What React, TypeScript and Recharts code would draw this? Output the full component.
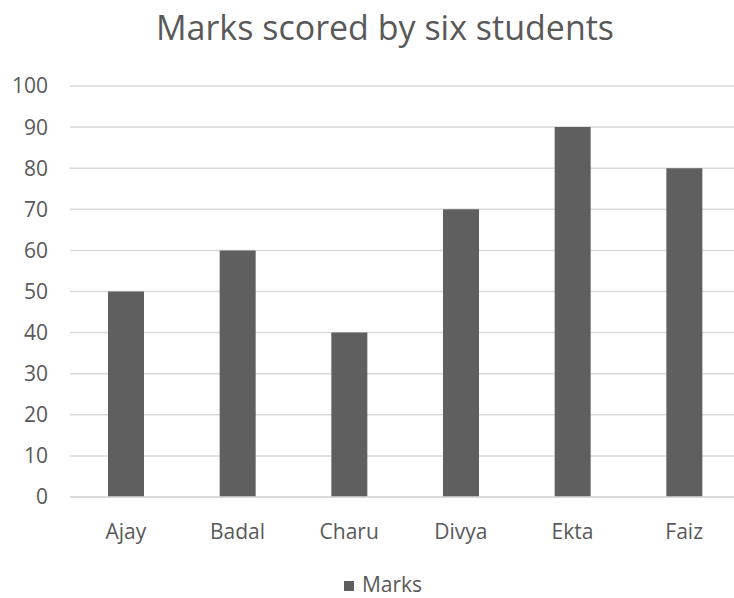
import { BarChart, Bar, XAxis, YAxis, CartesianGrid, Legend } from "recharts";

const students = ["Ajay", "Badal", "Charu", "Divya", "Ekta", "Faiz"];
const marks = [50, 60, 40, 70, 90, 80];
const yTicks = [0, 10, 20, 30, 40, 50, 60, 70, 80, 90, 100];

const data = students.map((name, i) => ({ name, Marks: marks[i] }));

const font = "'Open Sans', 'Noto Sans', sans-serif";
const textColor = "#595959";

export default function App() {
  return (
    <div style={{ position: "absolute", left: 0, top: 0, width: 734, height: 598, overflow: "hidden", background: "#fff", fontFamily: font }}>
      <div style={{ position: "absolute", top: 4, left: 0, width: 770, textAlign: "center", fontSize: 34, color: textColor, zIndex: 1 }}>
        Marks scored by six students
      </div>
      <BarChart width={742} height={598} data={data} margin={{ top: 86, right: 2, bottom: 0, left: 0 }}>
        <CartesianGrid vertical={false} stroke="#d9d9d9" strokeWidth={1.5} />
        <XAxis
          dataKey="name"
          height={60}
          axisLine={{ stroke: "#d9d9d9", strokeWidth: 1.5 }}
          tickLine={false}
          tickSize={0}
          tickMargin={27}
          tick={{ fill: textColor, fontSize: 21, fontFamily: font }}
        />
        <YAxis
          width={70}
          domain={[0, 100]}
          ticks={yTicks}
          axisLine={false}
          tickLine={false}
          tickSize={0}
          tickMargin={22}
          tick={{ fill: textColor, fontSize: 21, fontFamily: font }}
        />
        <Legend
          verticalAlign="bottom"
          iconType="square"
          iconSize={10}
          height={41}
          wrapperStyle={{ fontSize: 21, fontFamily: font, left: 18, top: 570 }}
          formatter={(v) => <span style={{ color: textColor, marginLeft: 4 }}>{v}</span>}
        />
        <Bar dataKey="Marks" fill="#5f5f5f" barSize={36} isAnimationActive={false} />
      </BarChart>
    </div>
  );
}
